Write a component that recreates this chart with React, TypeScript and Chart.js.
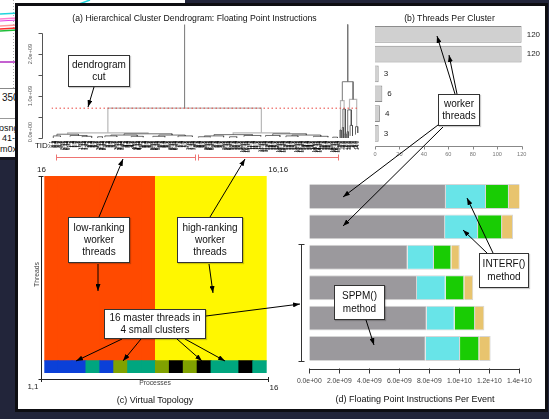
import React, { useEffect, useRef } from "react";
import { Chart, registerables } from "chart.js";

Chart.register(...registerables);

const FONT = "'Liberation Sans', Arial, Helvetica, sans-serif";

// ---------------- (a) Hierarchical cluster dendrogram ----------------
// link: [left child position, right child position, merge height (1e9), left child height, right child height]
const dendroRootLinks = [
  [110.5, 246.5, 3.0, 0.71, 1.34],
  [242, 251, 1.34, 0.89, 0.92],
];
const dendroUpperLinks = [
  [46.5, 174.5, 0.71, 0.12, 0.12],
  [13, 80, 0.12, 0.09, 0.1],
  [151, 198, 0.12, 0.08, 0.1],
  [240.5, 243.5, 0.89, 0.19, 0.69],
  [248, 254, 0.92, 0.67, 0.27],
];
const dendroLowerLinks = [
  [4, 22, 0.09, 0.05, 0.06],
  [60, 100, 0.1, 0.07, 0.07],
  [1, 7, 0.05, 0.0, 0.03],
  [15, 29, 0.06, 0.03, 0.04],
  [49, 71, 0.07, 0.05, 0.04],
  [89, 111, 0.07, 0.04, 0.05],
  [44, 54, 0.05, 0.02, 0.03],
  [66, 76, 0.04, 0.02, 0.02],
  [84, 94, 0.04, 0.02, 0.02],
  [105, 117, 0.05, 0.02, 0.03],
  [25, 33, 0.04, 0.02, 0.01],
  [38, 42, 0.03, 0.0, 0.01],
  [135, 167, 0.08, 0.05, 0.06],
  [184, 212, 0.1, 0.06, 0.07],
  [127, 143, 0.05, 0.03, 0.02],
  [160, 174, 0.06, 0.03, 0.04],
  [178, 190, 0.06, 0.03, 0.03],
  [200, 224, 0.07, 0.05, 0.04],
  [195, 205, 0.05, 0.02, 0.03],
  [218, 230, 0.04, 0.02, 0.02],
  [122, 132, 0.03, 0.01, 0.02],
  [148, 154, 0.03, 0.0, 0.01],
  [234, 238, 0.02, 0.0, 0.0],
  [240, 241, 0.19, 0, 0],
  [242.5, 244.5, 0.69, 0.25, 0.1],
  [242, 243, 0.25, 0, 0],
  [244, 245, 0.1, 0, 0],
  [246.5, 249.5, 0.67, 0.15, 0.3],
  [246, 247, 0.15, 0, 0],
  [248.5, 250.5, 0.3, 0.05, 0.05],
  [253, 255, 0.27, 0.08, 0.12],
];
const cutHeight = 0.71;
const dendroYTicks = [0, 0.5, 1, 1.5, 2, 2.5];
const dendroYLabels = ["0.0e+00", "", "1.0e+09", "", "2.0e+09", ""];
const clusterBrackets = [
  [3, 119],
  [122, 238],
];
const lowRankProcesses = [0, 1, 2, 3, 4, 5, 6, 7];
const highRankProcesses = [8, 9, 10, 11, 12, 13, 14, 15];
const workerThreadIds = [1, 2, 3, 4, 5, 6, 7, 8, 9, 10, 11, 12, 13, 14, 15];
const masterLeafOrder = [5, 8, 10, 3, 6, 7, 12, 13, 15, 0, 1, 2, 4, 9, 11, 14];
const tidLabels = [
  ...lowRankProcesses.flatMap((p) => workerThreadIds.map((t) => `${p}.${t}`)),
  ...highRankProcesses.flatMap((p) => workerThreadIds.map((t) => `${p}.${t}`)),
  ...masterLeafOrder.map((p) => `${p}.0`),
];

// ---------------- (b) Threads per cluster ----------------
const clusterNames = ["C1", "C2", "C3", "C4", "C5", "C6"];
const threadsPerCluster = [120, 120, 3, 6, 4, 3];
const threadTicks = [0, 20, 40, 60, 80, 100, 120];

// ---------------- (c) Virtual topology ----------------
const processes = ["1", "2", "3", "4", "5", "6", "7", "8", "9", "10", "11", "12", "13", "14", "15", "16"];
const masterRows = [1, 1, 1, 1, 1, 1, 1, 1, 1, 1, 1, 1, 1, 1, 1, 1];
const workerRows = [15, 15, 15, 15, 15, 15, 15, 15, 15, 15, 15, 15, 15, 15, 15, 15];
const masterClusterOfProcess = [0, 0, 0, 1, 0, 2, 1, 1, 2, 3, 2, 3, 1, 1, 3, 1];
const masterClusterColors = ["#0b40d8", "#00a67f", "#80a200", "#000000"];
const workerClusterOfProcess = [0, 0, 0, 0, 0, 0, 0, 0, 1, 1, 1, 1, 1, 1, 1, 1];
const workerClusterColors = ["#ff4a00", "#fff700"];

// ---------------- (d) Floating point instructions per event ----------------
const eventRows = ["E1", "E2", "E3", "E4", "E5", "E6"];
const sppmFlops = [9.11e9, 9.05e9, 6.56e9, 7.18e9, 7.83e9, 7.76e9];
const interfFlops = [2.67e9, 2.2e9, 1.75e9, 1.91e9, 1.86e9, 2.29e9];
const otherAFlops = [1.53e9, 1.6e9, 1.16e9, 1.24e9, 1.36e9, 1.28e9];
const otherBFlops = [0.87e9, 0.73e9, 0.56e9, 0.6e9, 0.62e9, 0.76e9];
const flopTicks = [0, 2e9, 4e9, 6e9, 8e9, 1e10, 1.2e10, 1.4e10];
const flopTickLabels = ["0.0e+00", "2.0e+09", "4.0e+09", "6.0e+09", "8.0e+09", "1.0e+10", "1.2e+10", "1.4e+10"];

// ---------------- annotations ----------------
const notes = [
  { text: "dendrogram\ncut", box: [68, 55, 130, 87] },
  { text: "worker\nthreads", box: [438, 94, 480, 126] },
  { text: "low-ranking\nworker\nthreads", box: [68, 217, 130, 263] },
  { text: "high-ranking\nworker\nthreads", box: [177, 217, 243, 263] },
  { text: "16 master threads in\n4 small clusters", box: [104, 309, 206, 339] },
  { text: "SPPM()\nmethod", box: [334, 285, 385, 320] },
  { text: "INTERF()\nmethod", box: [479, 253, 529, 288] },
];
const arrows = [
  [94, 87, 88, 107],
  [455, 94, 437, 36],
  [457, 94, 449, 55],
  [438, 125, 343, 197],
  [443, 127, 343, 226],
  [99, 217, 123, 159],
  [98, 264, 98, 291],
  [210, 217, 245, 159],
  [209, 264, 213, 293],
  [122, 339, 76, 361],
  [141, 339, 123, 361],
  [177, 339, 202, 361],
  [185, 339, 225, 361],
  [206, 316, 300, 304],
  [366, 320, 374, 345],
  [493, 253, 467, 198],
  [487, 253, 463, 230],
];

function linkPath(links: number[][]) {
  const pts: { x: number; y: number | null }[] = [];
  for (const [xl, xr, h, hl, hr] of links) {
    pts.push({ x: xl, y: hl }, { x: xl, y: h }, { x: xr, y: h }, { x: xr, y: hr }, { x: xr, y: null });
  }
  return pts;
}

const baseOptions = {
  responsive: false,
  animation: false,
  devicePixelRatio: 1,
  events: [],
  plugins: { legend: { display: false }, tooltip: { enabled: false }, title: { display: false } },
};

function ChartBox({ left, top, width, height, make }: any) {
  const ref = useRef<HTMLCanvasElement>(null);
  useEffect(() => {
    const chart = new Chart(ref.current as HTMLCanvasElement, make());
    return () => chart.destroy();
  }, []);
  return (
    <canvas
      ref={ref}
      width={width}
      height={height}
      style={{ position: "absolute", left, top, width, height }}
    />
  );
}

// ---------- chart (a) ----------
function makeDendro() {
  const plugin = {
    id: "dendroAxes",
    afterDraw(chart: any) {
      const { ctx, chartArea: a } = chart;
      const x = chart.scales.x;
      const y = chart.scales.y;
      ctx.save();
      const ax = Math.round(a.left - 10) + 0.5;
      ctx.strokeStyle = "#555";
      ctx.lineWidth = 1;
      ctx.beginPath();
      ctx.moveTo(ax, Math.round(y.getPixelForValue(0)) + 0.5);
      ctx.lineTo(ax, Math.round(y.getPixelForValue(2.5)) + 0.5);
      dendroYTicks.forEach((t) => {
        const py = Math.round(y.getPixelForValue(t)) + 0.5;
        ctx.moveTo(ax - 4, py);
        ctx.lineTo(ax, py);
      });
      ctx.stroke();
      ctx.fillStyle = "#555";
      ctx.font = `5.6px ${FONT}`;
      ctx.textAlign = "center";
      ctx.textBaseline = "middle";
      dendroYTicks.forEach((t, i) => {
        if (!dendroYLabels[i]) return;
        ctx.save();
        ctx.translate(ax - 12, y.getPixelForValue(t) - (t === 0 ? 6 : 0));
        ctx.rotate(-Math.PI / 2);
        ctx.fillText(dendroYLabels[i], 0, 0);
        ctx.restore();
      });
      // TID leaf labels
      ctx.fillStyle = "#000";
      ctx.font = `4.6px ${FONT}`;
      ctx.textAlign = "right";
      tidLabels.forEach((lab, i) => {
        ctx.save();
        ctx.translate(x.getPixelForValue(i), a.bottom + 3);
        ctx.rotate(-Math.PI / 2);
        ctx.fillText(lab, 0, 0);
        ctx.restore();
      });
      ctx.font = `8px ${FONT}`;
      ctx.fillStyle = "#111";
      ctx.textAlign = "right";
      ctx.fillText("TID:", a.left - 1.5, a.bottom + 8);
      // cluster brackets
      ctx.strokeStyle = "#ee7472";
      ctx.lineWidth = 1;
      const by = Math.round(a.bottom + 19) + 0.5;
      clusterBrackets.forEach(([s, e]) => {
        const x0 = Math.round(x.getPixelForValue(s)) + 0.5;
        const x1 = Math.round(x.getPixelForValue(e)) + 0.5;
        ctx.beginPath();
        ctx.moveTo(x0, by);
        ctx.lineTo(x1, by);
        ctx.moveTo(x0, by - 3);
        ctx.lineTo(x0, by + 3);
        ctx.moveTo(x1, by - 3);
        ctx.lineTo(x1, by + 3);
        ctx.stroke();
      });
      ctx.restore();
    },
  };
  return {
    type: "scatter",
    data: {
      datasets: [
        {
          data: [
            { x: -0.5, y: cutHeight },
            { x: 255.5, y: cutHeight },
          ],
          showLine: true,
          borderColor: "#e8453e",
          borderWidth: 1,
          borderDash: [1.5, 2.5],
          pointRadius: 0,
          order: 0,
        },
        {
          data: linkPath(dendroLowerLinks),
          showLine: true,
          borderColor: "#4a4a4a",
          borderWidth: 0.8,
          pointRadius: 0,
          order: 1,
        },
        {
          data: linkPath(dendroRootLinks),
          showLine: true,
          borderColor: "#777",
          borderWidth: 1,
          pointRadius: 0,
          order: 1,
        },
        {
          data: linkPath(dendroUpperLinks),
          showLine: true,
          borderColor: "#b8b8b8",
          borderWidth: 1.2,
          pointRadius: 0,
          order: 2,
        },
      ],
    },
    options: {
      ...baseOptions,
      layout: { padding: { left: 37.5, right: 11.5, top: 4.6, bottom: 28 } },
      scales: {
        x: { type: "linear", min: -0.5, max: 255.5, display: false },
        y: { type: "linear", min: 0, max: 2.7, display: false },
      },
    },
    plugins: [plugin],
  };
}

// ---------- chart (b) ----------
function makeThreads() {
  const plugin = {
    id: "threadAxes",
    afterDraw(chart: any) {
      const { ctx, chartArea: a } = chart;
      const x = chart.scales.x;
      const y = chart.scales.y;
      ctx.save();
      const ay = Math.floor(a.bottom + 3.4) + 0.5;
      ctx.strokeStyle = "#888";
      ctx.lineWidth = 1;
      ctx.beginPath();
      ctx.moveTo(Math.round(x.getPixelForValue(0)) + 0.5, ay);
      ctx.lineTo(Math.round(x.getPixelForValue(120)) + 0.5, ay);
      threadTicks.forEach((t) => {
        const px = Math.round(x.getPixelForValue(t)) + 0.5;
        ctx.moveTo(px, ay);
        ctx.lineTo(px, ay + 3);
      });
      ctx.stroke();
      ctx.fillStyle = "#777";
      ctx.font = `5.6px ${FONT}`;
      ctx.textAlign = "center";
      ctx.textBaseline = "middle";
      threadTicks.forEach((t) => ctx.fillText(String(t), x.getPixelForValue(t), ay + 8));
      ctx.fillStyle = "#222";
      ctx.font = `8px ${FONT}`;
      ctx.textAlign = "left";
      threadsPerCluster.forEach((v, i) => {
        ctx.fillText(String(v), x.getPixelForValue(v) + 5, y.getPixelForValue(i));
      });
      ctx.restore();
    },
  };
  return {
    type: "bar",
    data: {
      labels: clusterNames,
      datasets: [
        {
          data: threadsPerCluster,
          backgroundColor: "#d0d0d0",
          borderColor: "#8c8c8c",
          borderWidth: 1,
          barPercentage: 0.84,
          categoryPercentage: 1,
        },
      ],
    },
    options: {
      ...baseOptions,
      indexAxis: "y",
      layout: { padding: { left: 7, right: 23.3, top: 4.4, bottom: 22.7 } },
      scales: {
        x: { min: 0, max: 120, display: false },
        y: { display: false },
      },
    },
    plugins: [plugin],
  };
}

// ---------- chart (c) ----------
function makeTopology() {
  const plugin = {
    id: "topoAxes",
    afterDraw(chart: any) {
      const { ctx, chartArea: a } = chart;
      ctx.save();
      ctx.strokeStyle = "#222";
      ctx.lineWidth = 1;
      const ax = Math.round(a.left - 3.3) + 0.5;
      const ay = Math.round(a.bottom + 6) + 0.5;
      const right = Math.round(a.right + 1.3) + 0.5;
      ctx.beginPath();
      ctx.moveTo(ax, Math.round(a.top) + 0.5);
      ctx.lineTo(ax, ay);
      ctx.moveTo(ax - 3, Math.round(a.top) + 0.5);
      ctx.lineTo(ax + 2, Math.round(a.top) + 0.5);
      ctx.moveTo(ax - 3, ay);
      ctx.lineTo(right, ay);
      ctx.moveTo(ax, ay - 2.5);
      ctx.lineTo(ax, ay + 2.5);
      ctx.moveTo(right, ay - 2.5);
      ctx.lineTo(right, ay + 2.5);
      ctx.stroke();
      ctx.fillStyle = "#222";
      ctx.textBaseline = "middle";
      ctx.font = `8px ${FONT}`;
      ctx.textAlign = "center";
      ctx.fillText("16", ax, a.top - 6);
      ctx.fillText("16,16", a.right + 11.5, a.top - 6);
      ctx.textAlign = "right";
      ctx.fillText("1,1", ax - 3, ay + 7);
      ctx.textAlign = "left";
      ctx.fillText("16", right + 1, ay + 8);
      ctx.font = `6.8px ${FONT}`;
      ctx.textAlign = "center";
      ctx.fillStyle = "#444";
      ctx.fillText("Processes", (ax + right) / 2, ay + 4);
      ctx.save();
      ctx.translate(ax - 4, (a.top + a.bottom) / 2);
      ctx.rotate(-Math.PI / 2);
      ctx.fillText("Threads", 0, 0);
      ctx.restore();
      ctx.restore();
    },
  };
  return {
    type: "bar",
    data: {
      labels: processes,
      datasets: [
        {
          label: "master",
          data: masterRows,
          backgroundColor: masterClusterOfProcess.map((c) => masterClusterColors[c]),
          borderWidth: 0,
          barPercentage: 1,
          categoryPercentage: 1,
          inflateAmount: 0.5,
        },
        {
          label: "workers",
          data: workerRows,
          backgroundColor: workerClusterOfProcess.map((c) => workerClusterColors[c]),
          borderWidth: 0,
          barPercentage: 1,
          categoryPercentage: 1,
          inflateAmount: 0.5,
        },
      ],
    },
    options: {
      ...baseOptions,
      layout: { padding: { left: 24.3, right: 28.3, top: 16, bottom: 27 } },
      scales: {
        x: { stacked: true, display: false },
        y: { stacked: true, min: 0, max: 16, display: false },
      },
    },
    plugins: [plugin],
  };
}

// ---------- chart (d) ----------
function makeFlops() {
  const plugin = {
    id: "flopAxes",
    afterDraw(chart: any) {
      const { ctx, chartArea: a } = chart;
      const x = chart.scales.x;
      const y = chart.scales.y;
      ctx.save();
      ctx.strokeStyle = "#333";
      ctx.lineWidth = 1;
      const ay = Math.round(a.bottom + 5.6) + 0.5;
      ctx.beginPath();
      ctx.moveTo(Math.round(x.getPixelForValue(0)) + 0.5, ay);
      ctx.lineTo(Math.round(x.getPixelForValue(1.4e10)) + 0.5, ay);
      flopTicks.forEach((t) => {
        const px = Math.round(x.getPixelForValue(t)) + 0.5;
        ctx.moveTo(px, ay - 1);
        ctx.lineTo(px, ay + 4);
      });
      const bx = Math.round(a.left - 8.3) + 0.5;
      const band = y.getPixelForValue(1) - y.getPixelForValue(0);
      const t0 = Math.round(y.getPixelForValue(2) - band * 0.45) + 0.5;
      const t1 = Math.round(y.getPixelForValue(5) + band * 0.41) + 0.5;
      ctx.moveTo(bx, t0);
      ctx.lineTo(bx, t1);
      ctx.moveTo(bx - 3, t0);
      ctx.lineTo(bx + 3, t0);
      ctx.moveTo(bx - 3, t1);
      ctx.lineTo(bx + 3, t1);
      ctx.stroke();
      ctx.fillStyle = "#444";
      ctx.font = `6.8px ${FONT}`;
      ctx.textAlign = "center";
      ctx.textBaseline = "middle";
      flopTicks.forEach((t, i) => ctx.fillText(flopTickLabels[i], x.getPixelForValue(t), ay + 12));
      ctx.restore();
    },
  };
  const ds = (data: number[], color: string) => ({
    data,
    backgroundColor: color,
    borderColor: "#d6d6d6",
    borderWidth: 1,
    barPercentage: 0.82,
    categoryPercentage: 1,
  });
  return {
    type: "bar",
    data: {
      labels: eventRows,
      datasets: [
        ds(sppmFlops, "#9b999d"),
        ds(interfFlops, "#68e4e8"),
        ds(otherAFlops, "#19cc04"),
        ds(otherBFlops, "#e8c46e"),
      ],
    },
    options: {
      ...baseOptions,
      indexAxis: "y",
      layout: { padding: { left: 19.3, right: 20.7, top: 9.3, bottom: 28.3 } },
      scales: {
        x: { stacked: true, min: 0, max: 1.4e10, display: false },
        y: { stacked: true, display: false },
      },
    },
    plugins: [plugin],
  };
}

function Txt({ x, y, size, children, color = "#111" }: any) {
  return (
    <div
      style={{
        position: "absolute",
        left: x,
        top: y,
        transform: "translate(-50%,-50%)",
        fontSize: size,
        color,
        whiteSpace: "nowrap",
        lineHeight: 1,
        fontFamily: FONT,
      }}
    >
      {children}
    </div>
  );
}

function BackgroundWindow() {
  return (
    <div style={{ position: "absolute", left: 0, top: 0, width: 185, height: 157, background: "#fff", borderBottom: "3px solid #15161f" }}>
      <svg width={185} height={157} style={{ position: "absolute", left: 0, top: 0 }}>
        <line x1={13.5} y1={0} x2={13.5} y2={88} stroke="#aaa" strokeDasharray="1,2" />
        <polyline points="0,14 60,11 90,0" fill="none" stroke="#22d4dc" strokeWidth={1.5} />
        <line x1={0} y1={19} x2={17} y2={18} stroke="#ff7fd0" strokeWidth={1.5} />
        <line x1={0} y1={21} x2={17} y2={20} stroke="#e040e0" strokeWidth={1} />
        <line x1={0} y1={26} x2={17} y2={25} stroke="#ff9a9a" strokeWidth={1.5} />
        <line x1={0} y1={29} x2={17} y2={28} stroke="#ff2a2a" strokeWidth={1.5} />
        <line x1={0} y1={31} x2={17} y2={30} stroke="#1fbf3a" strokeWidth={1.5} />
        <line x1={0} y1={62} x2={17} y2={62} stroke="#b02cc0" strokeWidth={1.5} />
        <line x1={0} y1={88.5} x2={185} y2={88.5} stroke="#888" />
        <text x={2} y={101} fontSize={10} fontFamily={FONT} fill="#111">350</text>
        <line x1={0} y1={118.5} x2={185} y2={118.5} stroke="#999" />
        <text x={-1} y={131} fontSize={9} fontFamily={FONT} fill="#111">osng</text>
        <text x={2} y={141} fontSize={9} fontFamily={FONT} fill="#111">41-st</text>
        <text x={0} y={152} fontSize={9} fontFamily={FONT} fill="#111">m0x</text>
      </svg>
    </div>
  );
}

export default function App() {
  return (
    <div
      style={{
        position: "fixed",
        left: 0,
        top: 0,
        width: 549,
        height: 419,
        overflow: "hidden",
        background: "#22253a",
        fontFamily: FONT,
      }}
    >
      <BackgroundWindow />
      <div
        style={{
          position: "absolute",
          left: 15,
          top: 3,
          width: 527,
          height: 403,
          border: "3px solid #0e0e12",
          background: "#fff",
        }}
      />
      <ChartBox left={14} top={20} width={356} height={146} make={makeDendro} />
      <ChartBox left={368} top={20} width={177} height={146} make={makeThreads} />
      <ChartBox left={20} top={160} width={275} height={240} make={makeTopology} />
      <ChartBox left={290} top={172} width={250} height={220} make={makeFlops} />

      <Txt x={194.5} y={17.5} size={8.7}>(a) Hierarchical Cluster Dendrogram: Floating Point Instructions</Txt>
      <Txt x={449.5} y={17.5} size={8.7}>(b) Threads Per Cluster</Txt>
      <Txt x={155} y={400} size={9}>(c) Virtual Topology</Txt>
      <Txt x={415} y={399} size={9}>(d) Floating Point Instructions Per Event</Txt>

      <svg width={549} height={419} style={{ position: "absolute", left: 0, top: 0, pointerEvents: "none" }}>
        <defs>
          <marker
            id="ah"
            viewBox="0 0 10 10"
            refX={10}
            refY={5}
            markerWidth={7}
            markerHeight={5}
            markerUnits="userSpaceOnUse"
            preserveAspectRatio="none"
            orient="auto"
          >
            <path d="M0,0 L10,5 L0,10 z" fill="#000" />
          </marker>
        </defs>
        {arrows.map(([x1, y1, x2, y2], i) => (
          <line key={i} x1={x1} y1={y1} x2={x2} y2={y2} stroke="#000" strokeWidth={1} markerEnd="url(#ah)" />
        ))}
      </svg>

      {notes.map((n, i) => {
        const [x1, y1, x2, y2] = n.box;
        return (
          <div
            key={i}
            style={{
              position: "absolute",
              left: x1,
              top: y1,
              width: x2 - x1,
              height: y2 - y1,
              boxSizing: "border-box",
              border: "1px solid #333",
              background: "#fff",
              display: "flex",
              alignItems: "center",
              justifyContent: "center",
              textAlign: "center",
              whiteSpace: "pre",
              fontSize: 10,
              lineHeight: "12.3px",
              color: "#111",
              fontFamily: FONT,
              boxShadow: "1px 1px 1px rgba(0,0,0,0.2)",
            }}
          >
            {n.text}
          </div>
        );
      })}
    </div>
  );
}
